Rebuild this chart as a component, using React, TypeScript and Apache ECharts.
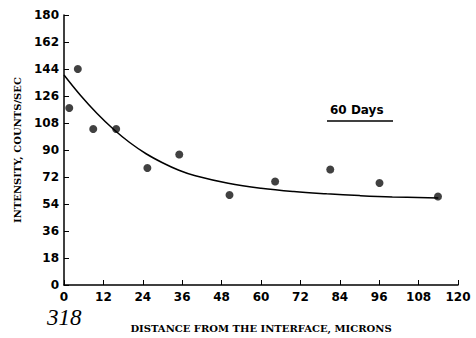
import React, { useEffect, useRef } from "react";
import * as echarts from "echarts";

const pointX = [1.6, 4.2, 8.9, 15.9, 25.4, 35.1, 50.4, 64.3, 81.1, 96.1, 113.9];
const pointY = [118, 144, 104, 104, 78, 87, 60, 69, 77, 68, 59];

const curveX = [0, 5, 10, 15, 20, 25, 30, 35, 40, 50, 60, 70, 80, 90, 100, 114];
const curveY = [140, 126.5, 114.5, 104, 95, 87.5, 81.5, 76.5, 72.8, 67.8, 64.5, 62.3, 60.8, 59.6, 58.7, 58];

const xTicks = [0, 12, 24, 36, 48, 60, 72, 84, 96, 108, 120];
const yTicks = [0, 18, 36, 54, 72, 90, 108, 126, 144, 162, 180];

const xTitle = "DISTANCE FROM THE INTERFACE, MICRONS";
const yTitle = "INTENSITY, COUNTS/SEC";
const legendText = "60 Days";
const noteText = "318";

export default function App() {
  const ref = useRef<HTMLDivElement>(null);
  useEffect(() => {
    if (!ref.current) return;
    const chart = echarts.init(ref.current, null, { renderer: "svg" });
    const tickFont = { color: "#000", fontSize: 12, fontFamily: "DejaVu Sans", fontWeight: "bold" as const };
    const titleFont = { color: "#000", fontSize: 10, fontFamily: "DejaVu Serif", fontWeight: "bold" as const };
    chart.setOption({
      animation: false,
      backgroundColor: "#fff",
      grid: { left: 64, right: 18, top: 15, bottom: 52 },
      xAxis: {
        type: "value",
        min: 0,
        max: 120,
        interval: 12,
        axisLine: { show: true, lineStyle: { color: "#000", width: 1.5 } },
        axisTick: { show: true, inside: true, length: 5, lineStyle: { color: "#000" } },
        axisLabel: { ...tickFont, margin: 6, formatter: (v: number) => (xTicks.includes(v) ? String(v) : "") },
        splitLine: { show: false },
        name: xTitle,
        nameLocation: "middle",
        nameGap: 38,
        nameTextStyle: titleFont,
      },
      yAxis: {
        type: "value",
        min: 0,
        max: 180,
        interval: 18,
        axisLine: { show: true, lineStyle: { color: "#000", width: 1.5 } },
        axisTick: { show: true, inside: true, length: 5, lineStyle: { color: "#000" } },
        axisLabel: { ...tickFont, margin: 5, formatter: (v: number) => (yTicks.includes(v) ? String(v) : "") },
        splitLine: { show: false },
        name: yTitle,
        nameLocation: "middle",
        nameGap: 42,
        nameRotate: 90,
        nameTextStyle: titleFont,
      },
      series: [
        {
          type: "line",
          data: curveX.map((x, i) => [x, curveY[i]]),
          smooth: 0.4,
          showSymbol: false,
          lineStyle: { color: "#000", width: 1.5 },
        },
        {
          type: "scatter",
          data: pointX.map((x, i) => [x, pointY[i]]),
          symbolSize: 8,
          itemStyle: { color: "#111" },
        },
      ],
      graphic: [
        {
          type: "text",
          left: 330,
          top: 104,
          style: { text: legendText, fill: "#000", fontSize: 12, fontFamily: "DejaVu Sans", fontWeight: "bold" },
        },
        {
          type: "line",
          shape: { x1: 327, y1: 121, x2: 393, y2: 121 },
          style: { stroke: "#000", lineWidth: 1.5 },
        },
        {
          type: "text",
          left: 47,
          top: 306,
          style: { text: noteText, fill: "#000", fontSize: 23, fontFamily: "Liberation Serif", fontStyle: "italic" },
        },
      ],
    });
    return () => chart.dispose();
  }, []);
  return <div ref={ref} style={{ width: 476, height: 338, position: "absolute", left: 0, top: 0 }} />;
}
